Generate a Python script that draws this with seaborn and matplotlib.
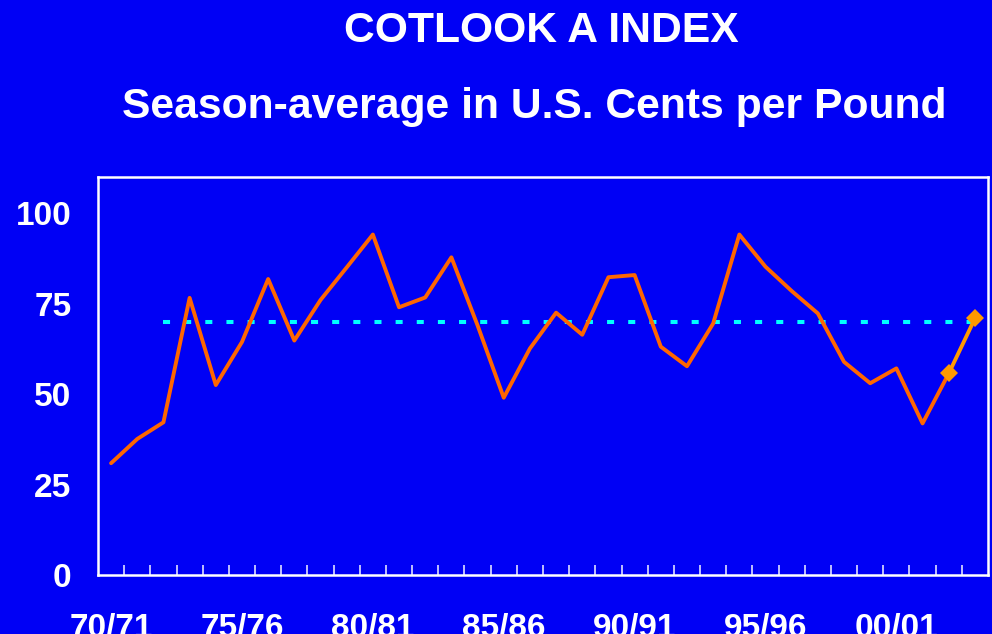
import matplotlib
matplotlib.use('Agg')
import matplotlib.pyplot as plt
import seaborn as sns
import numpy as np
import pandas as pd
from matplotlib.ticker import FixedLocator

sns.set_style("white")
plt.rcParams['font.family'] = ['Liberation Sans', 'DejaVu Sans']

BLUE = "#0000F5"

seasons = ["70/71", "71/72", "72/73", "73/74", "74/75", "75/76", "76/77", "77/78",
           "78/79", "79/80", "80/81", "81/82", "82/83", "83/84", "84/85", "85/86",
           "86/87", "87/88", "88/89", "89/90", "90/91", "91/92", "92/93", "93/94",
           "94/95", "95/96", "96/97", "97/98", "98/99", "99/00", "00/01", "01/02",
           "02/03", "03/04"]

# season-average cotlook A index, cents/lb
prices = [30.9, 37.6, 42.2, 76.6, 52.5, 64.4, 81.8, 64.8, 76.0, 85.0, 94.1,
          74.0, 76.7, 87.8, 69.0, 49.0, 62.6, 72.5, 66.4, 82.3, 82.9, 63.1,
          57.7, 69.5, 94.1, 85.2, 78.5, 72.3, 58.9, 53.0, 57.1, 41.9, 55.7]
# projection for the latest seasons
proj_seasons = ["02/03", "03/04"]
proj_prices = [55.7, 70.9]
# long-run average, 72/73 onward
avg_seasons = seasons[2:]
avg_value = 70.0

label_seasons = ["70/71", "75/76", "80/81", "85/86", "90/91", "95/96", "00/01"]

pos = {s: i for i, s in enumerate(seasons)}
df = pd.DataFrame({"x": [pos[s] for s in seasons[:len(prices)]], "price": prices})
df_proj = pd.DataFrame({"x": [pos[s] for s in proj_seasons], "price": proj_prices})
df_avg = pd.DataFrame({"x": [pos[s] for s in avg_seasons],
                       "price": [avg_value] * len(avg_seasons)})

fig = plt.figure(figsize=(9.92, 6.34), dpi=100, facecolor=BLUE)
ax = fig.add_axes([98 / 992, 59 / 634, 890 / 992, 398 / 634])
ax.set_facecolor(BLUE)

sns.lineplot(data=df_avg, x="x", y="price", ax=ax, color="#00FFFF", lw=2.9,
             dashes=False)
ax.lines[-1].set_dashes([1.75, 3.5])
ax.lines[-1].set_dash_capstyle("butt")
sns.lineplot(data=df, x="x", y="price", ax=ax, color="#FF6600", lw=2.8)
sns.lineplot(data=df_proj, x="x", y="price", ax=ax, color="#FF9900", lw=2.8,
             marker="D", markersize=9, markeredgewidth=0)

ax.set_xlim(-0.5, len(seasons) - 0.5)
ax.set_ylim(0, 110)

ax.set_yticks([0, 25, 50, 75, 100])
ax.tick_params(axis="y", direction="in", length=8, width=1.2, color="#C8C8FF",
               pad=19, labelsize=24, labelcolor="white")
ax.set_xticks([pos[s] for s in label_seasons])
ax.set_xticklabels(label_seasons)
ax.xaxis.set_minor_locator(FixedLocator(np.arange(0.5, len(seasons) - 1, 1.0)))
ax.tick_params(axis="x", which="major", length=0, pad=27, labelsize=24,
               labelcolor="white")
ax.tick_params(axis="x", which="minor", direction="in", length=7, width=1.2,
               color="#E0E0FF", bottom=True)
for t in ax.get_xticklabels() + ax.get_yticklabels():
    t.set_fontweight("bold")

for side in ["left", "bottom", "top", "right"]:
    ax.spines[side].set_visible(True)
    ax.spines[side].set_color("white")
    ax.spines[side].set_linewidth(1.8)
ax.set_xlabel("")
ax.set_ylabel("")

fig.text(0.546, 0.951, "COTLOOK A INDEX", ha="center", va="center",
         color="white", fontsize=30.7, fontweight="bold")
fig.text(0.539, 0.832, "Season-average in U.S. Cents per Pound", ha="center",
         va="center", color="white", fontsize=30.7, fontweight="bold")

fig.savefig("out.png", dpi=100, facecolor=BLUE)
